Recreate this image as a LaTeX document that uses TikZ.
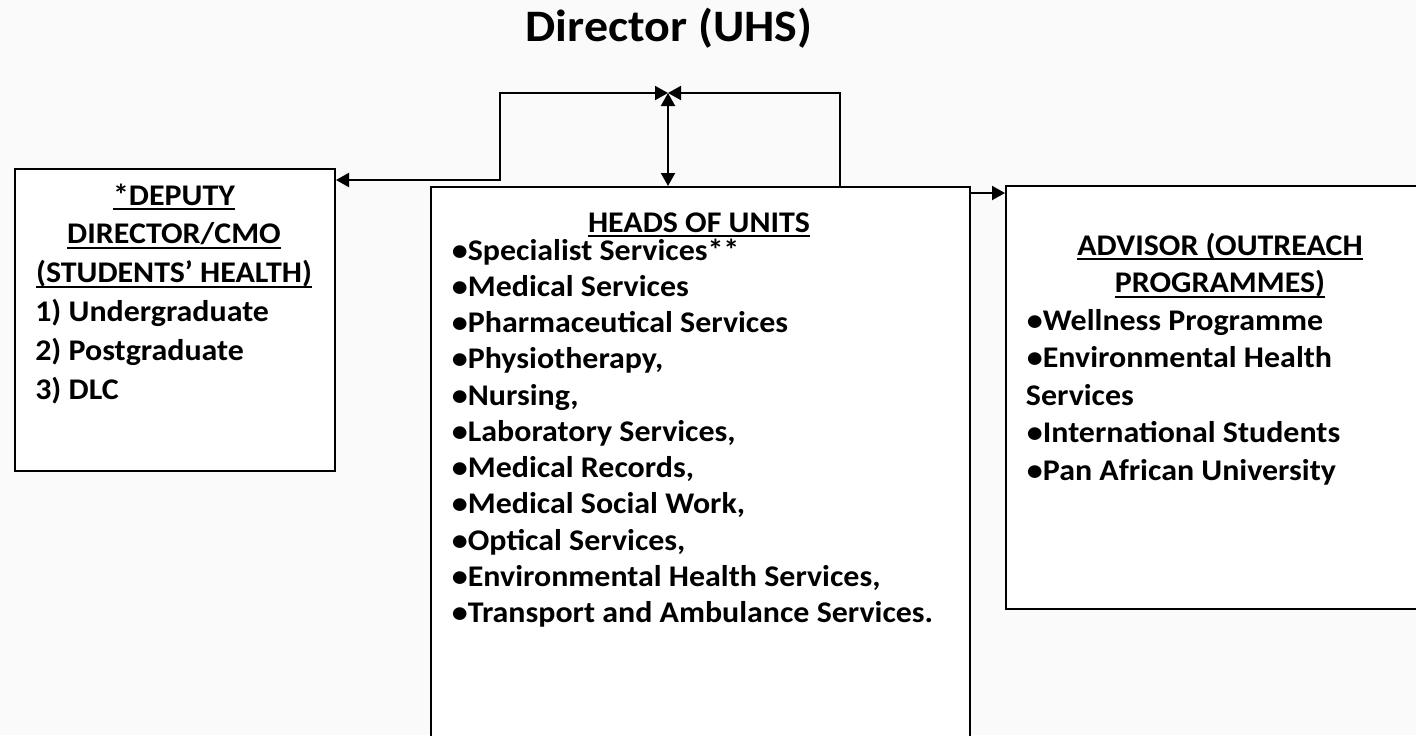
\documentclass[tikz,border=0pt]{standalone}
\usepackage{fontspec}
\setmainfont{Carlito}[FakeStretch=1.065]
\usepackage{tikz}
\usetikzlibrary{
    arrows.meta,
    calc,
    positioning
}
% underlined heading line
\newcommand{\ulhd}[1]{\sbox0{#1}\rlap{\rule[-4.1pt]{\wd0}{1.5pt}}\usebox0}

\begin{document}
\begin{tikzpicture}[x=0.75pt, y=-0.75pt,
    >={Triangle[length=9.75pt, width=10.5pt]},
    box/.style={draw, line width=1.5pt, fill=white, inner sep=0pt, anchor=north west},
    title/.style={font=\fontsize{33.75}{40}\selectfont\bfseries, inner sep=0pt, anchor=base},
    hd/.style={font=\fontsize{22.5}{27}\selectfont\bfseries, inner sep=0pt, anchor=base},
    item/.style={font=\fontsize{22.5}{27}\selectfont\bfseries, inner sep=0pt, anchor=base west},
    link/.style={line width=1.5pt}
]
\useasboundingbox[fill=black!2] (0,0) rectangle (1416,735);

\node[title] (director) at (669,41.7) {Director (UHS)};
\coordinate (hub) at (668,93);

% the three boxes
\node[box, minimum width=240pt, minimum height=226.5pt] (deputy) at (14,168) {};
\node[box, minimum width=404.25pt, minimum height=418.5pt] (heads) at (430,186) {};
\node[box, minimum width=321pt, minimum height=317.25pt] (advisor) at (1005,185) {};

% deputy director
\foreach \txt [count=\i] in {*DEPUTY, DIRECTOR/CMO, (STUDENTS’ HEALTH)}
    \node[hd] (dh\i) at (174, 205+38.8*\i-38.8) {\ulhd{\txt}};
\foreach \txt [count=\i] in {1) Undergraduate, 2) Postgraduate, 3) DLC}
    \node[item] (di\i) at (35, 321.4+38.8*\i-38.8) {\txt};

% heads of units
\node[hd] (hh) at (699,232) {\ulhd{HEADS OF UNITS}};
\foreach \txt [count=\i] in {Specialist Services**, Medical Services, Pharmaceutical Services,
    {Physiotherapy,}, {Nursing,}, {Laboratory Services,}, {Medical Records,},
    {Medical Social Work,}, {Optical Services,}, {Environmental Health Services,},
    Transport and Ambulance Services.}
    \node[item] (hi\i) at (451.7, 260+36.25*\i-36.25) {•\txt};

% advisor
\foreach \txt [count=\i] in {ADVISOR (OUTREACH, PROGRAMMES)}
    \node[hd] (ah\i) at (1220, 255+37.5*\i-37.5) {\ulhd{\txt}};
\node[item] (ai1) at (1026.7,330) {•Wellness Programme};
\node[item] (ai2) at (1026.7,367.5) {•Environmental Health};
\node[item] (ai3) at (1025.7,405) {Services};
\node[item] (ai4) at (1026.7,442.5) {•International Students};
\node[item] (ai5) at (1026.7,480) {•Pan African University};

% connectors
\coordinate (tee) at ($(heads.north east)+(0,7)$);
\draw[link, <->] (hub) -- (500,93) |- ($(deputy.north east)+(0,12)$);
\draw[link, <->] (hub) -- (hub |- heads.north);
\draw[link, ->] ($(heads.north east)+(-131,0)$) |- (hub);
\draw[link, ->] (tee) -- (tee -| advisor.west);
\end{tikzpicture}
\end{document}
